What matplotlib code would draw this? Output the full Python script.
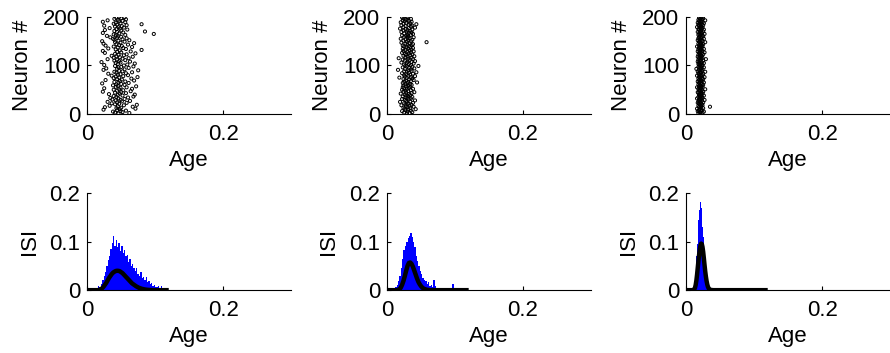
import numpy as np
import matplotlib.pyplot as plt

plt.rcParams['font.family'] = ['Liberation Sans', 'DejaVu Sans']
plt.rcParams['font.size'] = 16

# neuron index (y of the raster panels)
neuron_ids = list(range(1, 201))

# age of every neuron, one list per condition
age_1 = [0.046, 0.062, 0.041, 0.052, 0.038, 0.049, 0.057, 0.044, 0.024, 0.048, 0.071, 0.043, 0.050, 0.026, 0.067, 0.045, 0.033, 0.054, 0.073, 0.041,
         0.047, 0.036, 0.058, 0.044, 0.030, 0.051, 0.063, 0.042, 0.049, 0.037, 0.055, 0.046, 0.034, 0.060, 0.043, 0.068, 0.039, 0.052, 0.045, 0.070,
         0.032, 0.048, 0.057, 0.041, 0.050, 0.023, 0.064, 0.044, 0.053, 0.039, 0.047, 0.066, 0.025, 0.049, 0.058, 0.042, 0.072, 0.045, 0.038, 0.055,
         0.043, 0.050, 0.022, 0.061, 0.046, 0.040, 0.056, 0.048, 0.069, 0.027, 0.051, 0.044, 0.065, 0.039, 0.047, 0.074, 0.042, 0.053, 0.036, 0.060,
         0.045, 0.049, 0.031, 0.057, 0.043, 0.066, 0.040, 0.052, 0.047, 0.075, 0.024, 0.055, 0.044, 0.028, 0.061, 0.046, 0.050, 0.068, 0.041, 0.054,
         0.025, 0.059, 0.045, 0.070, 0.042, 0.049, 0.021, 0.063, 0.047, 0.040, 0.056, 0.044, 0.030, 0.052, 0.061, 0.039, 0.048, 0.067, 0.043, 0.036,
         0.054, 0.046, 0.058, 0.041, 0.071, 0.026, 0.050, 0.044, 0.064, 0.023, 0.048, 0.080, 0.042, 0.057, 0.031, 0.053, 0.045, 0.066, 0.039, 0.051,
         0.027, 0.047, 0.060, 0.043, 0.024, 0.069, 0.049, 0.041, 0.055, 0.022, 0.046, 0.062, 0.040, 0.052, 0.038, 0.058, 0.044, 0.034, 0.050, 0.045,
         0.029, 0.042, 0.056, 0.039, 0.098, 0.047, 0.023, 0.053, 0.044, 0.085, 0.040, 0.050, 0.026, 0.059, 0.043, 0.048, 0.033, 0.054, 0.046, 0.041,
         0.051, 0.025, 0.058, 0.044, 0.080, 0.039, 0.049, 0.042, 0.056, 0.023, 0.047, 0.052, 0.030, 0.045, 0.057, 0.040, 0.050, 0.043, 0.055, 0.047]

age_2 = [0.029, 0.033, 0.025, 0.037, 0.030, 0.022, 0.035, 0.027, 0.031, 0.042, 0.026, 0.034, 0.024, 0.030, 0.039, 0.028, 0.033, 0.021, 0.036, 0.027,
         0.031, 0.025, 0.038, 0.029, 0.019, 0.034, 0.028, 0.041, 0.026, 0.032, 0.022, 0.035, 0.030, 0.027, 0.037, 0.023, 0.031, 0.028, 0.034, 0.026,
         0.032, 0.020, 0.036, 0.028, 0.040, 0.024, 0.031, 0.027, 0.035, 0.022, 0.029, 0.038, 0.025, 0.032, 0.023, 0.034, 0.028, 0.031, 0.024, 0.036,
         0.027, 0.034, 0.030, 0.023, 0.044, 0.031, 0.025, 0.035, 0.028, 0.039, 0.032, 0.024, 0.037, 0.029, 0.018, 0.035, 0.026, 0.041, 0.031, 0.025,
         0.034, 0.028, 0.038, 0.022, 0.032, 0.043, 0.029, 0.025, 0.036, 0.031, 0.016, 0.035, 0.026, 0.040, 0.032, 0.023, 0.037, 0.029, 0.046, 0.027,
         0.035, 0.025, 0.032, 0.039, 0.029, 0.021, 0.036, 0.030, 0.041, 0.026, 0.033, 0.023, 0.038, 0.031, 0.017, 0.036, 0.027, 0.030, 0.040, 0.024,
         0.034, 0.028, 0.037, 0.026, 0.032, 0.022, 0.035, 0.030, 0.039, 0.024, 0.033, 0.027, 0.036, 0.023, 0.031, 0.038, 0.028, 0.034, 0.025, 0.032,
         0.023, 0.036, 0.030, 0.038, 0.027, 0.033, 0.021, 0.058, 0.029, 0.035, 0.024, 0.031, 0.037, 0.027, 0.020, 0.033, 0.030, 0.039, 0.025, 0.031,
         0.028, 0.022, 0.035, 0.030, 0.038, 0.025, 0.032, 0.036, 0.021, 0.029, 0.034, 0.024, 0.030, 0.037, 0.027, 0.019, 0.032, 0.041, 0.024, 0.035,
         0.027, 0.037, 0.021, 0.032, 0.043, 0.024, 0.034, 0.028, 0.020, 0.036, 0.026, 0.032, 0.023, 0.030, 0.027, 0.035, 0.024, 0.031, 0.022, 0.029]

age_3 = [0.021, 0.018, 0.024, 0.020, 0.026, 0.017, 0.022, 0.019, 0.023, 0.020, 0.016, 0.025, 0.021, 0.019, 0.035, 0.022, 0.018, 0.024, 0.020, 0.023,
         0.019, 0.022, 0.017, 0.025, 0.021, 0.018, 0.023, 0.020, 0.027, 0.019, 0.022, 0.016, 0.024, 0.021, 0.018, 0.023, 0.020, 0.026, 0.019, 0.022,
         0.020, 0.024, 0.018, 0.022, 0.017, 0.025, 0.021, 0.019, 0.023, 0.020, 0.028, 0.018, 0.022, 0.021, 0.016, 0.024, 0.019, 0.022, 0.020, 0.025,
         0.018, 0.023, 0.021, 0.019, 0.026, 0.020, 0.017, 0.024, 0.022, 0.019, 0.021, 0.025, 0.018, 0.023, 0.020, 0.027, 0.019, 0.022, 0.016, 0.024,
         0.021, 0.019, 0.025, 0.018, 0.022, 0.020, 0.028, 0.017, 0.023, 0.021, 0.019, 0.024, 0.015, 0.022, 0.020, 0.026, 0.018, 0.023, 0.021, 0.019,
         0.024, 0.020, 0.018, 0.022, 0.026, 0.019, 0.023, 0.017, 0.021, 0.025, 0.020, 0.018, 0.029, 0.022, 0.019, 0.024, 0.021, 0.017, 0.023, 0.020,
         0.022, 0.018, 0.025, 0.020, 0.023, 0.019, 0.027, 0.021, 0.017, 0.024, 0.020, 0.022, 0.018, 0.026, 0.021, 0.019, 0.023, 0.020, 0.016, 0.024,
         0.019, 0.023, 0.021, 0.025, 0.018, 0.022, 0.020, 0.028, 0.019, 0.024, 0.021, 0.017, 0.023, 0.020, 0.026, 0.018, 0.022, 0.021, 0.019, 0.025,
         0.020, 0.024, 0.018, 0.022, 0.027, 0.019, 0.023, 0.021, 0.017, 0.025, 0.020, 0.022, 0.019, 0.026, 0.018, 0.023, 0.021, 0.024, 0.016, 0.022,
         0.021, 0.019, 0.025, 0.018, 0.023, 0.020, 0.026, 0.017, 0.022, 0.024, 0.019, 0.021, 0.028, 0.018, 0.023, 0.020, 0.025, 0.019, 0.022, 0.024]

# ISI histograms (bin centres, heights)
bins_1 = [0.015, 0.017, 0.019, 0.021, 0.023, 0.025, 0.027, 0.029, 0.031, 0.033, 0.035, 0.037, 0.039, 0.041, 0.043, 0.045, 0.047, 0.049,
          0.051, 0.053, 0.055, 0.057, 0.059, 0.061, 0.063, 0.065, 0.067, 0.069, 0.071, 0.073, 0.075, 0.077, 0.079, 0.081, 0.083, 0.085,
          0.087, 0.089, 0.091, 0.093, 0.095, 0.097, 0.099, 0.101, 0.103, 0.105, 0.107, 0.109, 0.111, 0.113, 0.115, 0.117]
hist_1 = [0.005, 0.008, 0.006, 0.012, 0.020, 0.030, 0.038, 0.050, 0.062, 0.070, 0.085, 0.098, 0.111, 0.090, 0.104, 0.088, 0.097, 0.080,
          0.092, 0.076, 0.083, 0.070, 0.072, 0.058, 0.064, 0.050, 0.053, 0.045, 0.040, 0.046, 0.033, 0.030, 0.038, 0.025, 0.028, 0.020,
          0.028, 0.016, 0.018, 0.012, 0.014, 0.009, 0.010, 0.007, 0.006, 0.009, 0.005, 0.008, 0.004, 0.003, 0.002, 0.002]

bins_2 = [0.011, 0.013, 0.015, 0.017, 0.019, 0.021, 0.023, 0.025, 0.027, 0.029, 0.031, 0.033, 0.035, 0.037, 0.039, 0.041, 0.043, 0.045,
          0.047, 0.049, 0.051, 0.053, 0.055, 0.057, 0.059, 0.061, 0.063, 0.065, 0.067, 0.069, 0.071, 0.073, 0.075, 0.077, 0.079, 0.081,
          0.083, 0.097]
hist_2 = [0.004, 0.006, 0.010, 0.018, 0.030, 0.045, 0.065, 0.082, 0.090, 0.100, 0.108, 0.112, 0.118, 0.110, 0.100, 0.088, 0.070, 0.060,
          0.050, 0.040, 0.034, 0.026, 0.020, 0.018, 0.012, 0.016, 0.008, 0.010, 0.006, 0.020, 0.008, 0.004, 0.005, 0.003, 0.002, 0.002,
          0.001, 0.012]

bins_3 = [0.0115, 0.0125, 0.0135, 0.0145, 0.0155, 0.0165, 0.0175, 0.0185, 0.0195, 0.0205, 0.0215, 0.0225, 0.0235, 0.0245, 0.0255,
          0.0265, 0.0275, 0.0285, 0.0295, 0.0305, 0.0315, 0.0325, 0.0335, 0.0345, 0.0355]
hist_3 = [0.005, 0.012, 0.025, 0.045, 0.070, 0.095, 0.120, 0.145, 0.165, 0.175, 0.181, 0.170, 0.155, 0.130, 0.110,
          0.085, 0.065, 0.045, 0.030, 0.020, 0.014, 0.008, 0.006, 0.004, 0.002]

# fitted ISI density (black curve)
fit_x_1 = [0.0, 0.016, 0.018, 0.020, 0.022, 0.024, 0.026, 0.028, 0.030, 0.032, 0.034, 0.036, 0.038, 0.040, 0.042, 0.044, 0.046, 0.048,
           0.050, 0.052, 0.054, 0.056, 0.058, 0.060, 0.062, 0.064, 0.066, 0.068, 0.070, 0.072, 0.074, 0.076, 0.078, 0.080, 0.082,
           0.084, 0.086, 0.088, 0.090, 0.092, 0.094, 0.096, 0.098, 0.120]
fit_y_1 = [0.0, 0.0, 0.001, 0.002, 0.004, 0.007, 0.011, 0.015, 0.020, 0.025, 0.029, 0.033, 0.036, 0.038, 0.0395, 0.040, 0.0398, 0.039,
           0.037, 0.035, 0.032, 0.029, 0.026, 0.023, 0.020, 0.017, 0.014, 0.012, 0.010, 0.008, 0.0065, 0.005, 0.004, 0.003, 0.0023,
           0.0017, 0.0012, 0.0009, 0.0006, 0.0004, 0.0003, 0.0002, 0.0, 0.0]

fit_x_2 = [0.0, 0.014, 0.016, 0.018, 0.020, 0.022, 0.024, 0.026, 0.028, 0.030, 0.032, 0.034, 0.036, 0.038, 0.040, 0.042, 0.044, 0.046,
           0.048, 0.050, 0.052, 0.054, 0.056, 0.058, 0.060, 0.062, 0.064, 0.120]
fit_y_2 = [0.0, 0.0, 0.0005, 0.002, 0.005, 0.011, 0.019, 0.029, 0.040, 0.050, 0.056, 0.057, 0.054, 0.048, 0.040, 0.032, 0.024, 0.017,
           0.012, 0.008, 0.005, 0.003, 0.002, 0.001, 0.0006, 0.0003, 0.0, 0.0]

fit_x_3 = [0.0, 0.010, 0.012, 0.013, 0.014, 0.015, 0.016, 0.017, 0.018, 0.019, 0.020, 0.021, 0.022, 0.023, 0.024, 0.025, 0.026, 0.027,
           0.028, 0.029, 0.030, 0.031, 0.032, 0.033, 0.034, 0.036, 0.040, 0.120]
fit_y_3 = [0.0, 0.0, 0.002, 0.005, 0.011, 0.020, 0.032, 0.046, 0.060, 0.073, 0.084, 0.092, 0.096, 0.095, 0.089, 0.079, 0.066, 0.052,
           0.039, 0.028, 0.019, 0.012, 0.007, 0.004, 0.002, 0.0005, 0.0, 0.0]

ages = [age_1, age_2, age_3]
hists = [(bins_1, hist_1, 0.002), (bins_2, hist_2, 0.002), (bins_3, hist_3, 0.001)]
fits = [(fit_x_1, fit_y_1), (fit_x_2, fit_y_2), (fit_x_3, fit_y_3)]

fig = plt.figure(figsize=(8.9, 3.53), dpi=100)
lefts = [0.098, 0.435, 0.771]
w, h = 0.229, 0.275


def style(ax, ylabel, yticks, ylim):
    ax.set_xlim(0, 0.3)
    ax.set_ylim(*ylim)
    ax.set_xticks([0, 0.2])
    ax.set_xticklabels(['0', '0.2'])
    ax.set_yticks(yticks)
    ax.spines['top'].set_visible(False)
    ax.spines['right'].set_visible(False)
    ax.tick_params(direction='in', length=3, width=0.8)
    ax.tick_params(axis='x', pad=7)
    ax.tick_params(axis='y', pad=5)
    ax.set_xlabel('Age', labelpad=4)
    ax.set_ylabel(ylabel, labelpad=7)


for i in range(3):
    ax = fig.add_axes([lefts[i], 0.677, w, h])
    ax.scatter(ages[i], neuron_ids, s=5, facecolors='none', edgecolors='black', linewidths=0.7)
    style(ax, 'Neuron #', [0, 100, 200], (0, 200))

    ax = fig.add_axes([lefts[i], 0.178, w, h])
    bx, by, bw = hists[i]
    ax.bar(bx, by, width=bw, color='#0000ff', edgecolor='none')
    fx, fy = fits[i]
    ax.plot(fx, fy, color='black', linewidth=3.2, solid_capstyle='butt')
    style(ax, 'ISI', [0, 0.1, 0.2], (0, 0.2))
    ax.set_yticklabels(['0', '0.1', '0.2'])

fig.savefig('out.png', dpi=100)
